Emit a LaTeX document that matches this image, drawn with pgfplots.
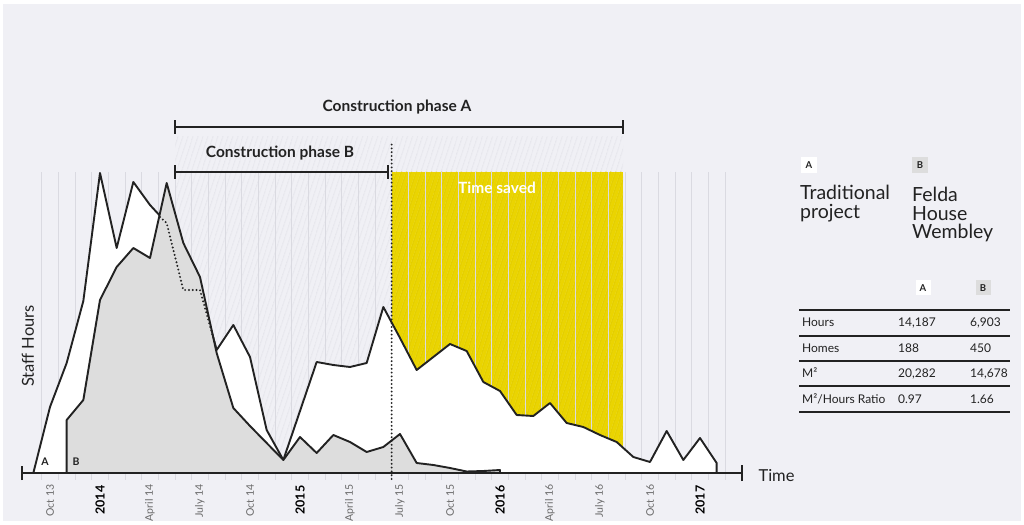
\documentclass[border=0pt]{standalone}
\usepackage{pgfplots}
\pgfplotsset{compat=1.18}
\usetikzlibrary{patterns.meta}
\usepackage{fontspec}
\setmainfont{Lato}
\definecolor{bg}{RGB}{240,240,245}
\definecolor{gridc}{RGB}{218,218,225}
\definecolor{hatchc}{RGB}{214,214,222}
\definecolor{ylw}{RGB}{234,212,0}
\definecolor{ylwh}{RGB}{214,194,0}
\definecolor{bfill}{RGB}{221,221,221}
\definecolor{lc}{RGB}{34,34,34}
\definecolor{monthc}{RGB}{105,105,105}
\begin{document}
\begin{tikzpicture}
\begin{axis}[x=16.6667pt, y=1pt, xmin=-3, xmax=58.44, ymin=-51, ymax=473,
  hide axis, clip=false]
\fill[white] (axis cs:-3,-51) rectangle (axis cs:58.44,473);
\fill[bg] (axis cs:-2.82,-48) rectangle (axis cs:58.26,469);
\coordinate (O) at (axis cs:-3,473);
% hatched construction area
\addplot[draw=none, pattern={Lines[angle=72,distance=4pt,line width=0.5pt]}, pattern color=hatchc]
  coordinates {(7.5,336) (34.38,336)} \closedcycle;
% time saved
\addplot[draw=none, fill=ylw] coordinates {(20.5,301) (34.38,301)} \closedcycle;
\addplot[draw=none, pattern={Lines[angle=72,distance=4pt,line width=0.5pt]}, pattern color=ylwh]
  coordinates {(20.5,301) (34.38,301)} \closedcycle;
% grid lines
\addplot[ycomb, mark=none, color=gridc, line width=0.8pt] coordinates {
(-0.5,301) (0.5,301) (1.5,301) (2.5,301) (3.5,301) (4.5,301) (5.5,301) (6.5,301) (7.5,301) (8.5,301)
(9.5,301) (10.5,301) (11.5,301) (12.5,301) (13.5,301) (14.5,301) (15.5,301) (16.5,301) (17.5,301) (18.5,301)
(19.5,301) (20.5,301) (21.5,301) (22.5,301) (23.5,301) (24.5,301) (25.5,301) (26.5,301) (27.5,301) (28.5,301)
(29.5,301) (30.5,301) (31.5,301) (32.5,301) (33.5,301) (34.5,301) (35.5,301) (36.5,301) (37.5,301) (38.5,301)
(39.5,301) (40.5,301)};
\addplot[ycomb, mark=none, color=gridc, line width=0.8pt] coordinates {
(-0.5,-7) (0.5,-7) (1.5,-7) (2.5,-7) (3.5,-7) (4.5,-7) (5.5,-7) (6.5,-7) (7.5,-7) (8.5,-7)
(9.5,-7) (10.5,-7) (11.5,-7) (12.5,-7) (13.5,-7) (14.5,-7) (15.5,-7) (16.5,-7) (17.5,-7) (18.5,-7)
(19.5,-7) (20.5,-7) (21.5,-7) (22.5,-7) (23.5,-7) (24.5,-7) (25.5,-7) (26.5,-7) (27.5,-7) (28.5,-7)
(29.5,-7) (30.5,-7) (31.5,-7) (32.5,-7) (33.5,-7) (34.5,-7) (35.5,-7) (36.5,-7) (37.5,-7) (38.5,-7)
(39.5,-7) (40.5,-7)};
% A: traditional project
\addplot[fill=white, draw=lc, line width=1.9pt, line join=round, mark=none] coordinates {
(-1,0) (0,66) (1,110) (2,172) (3,300) (4,225) (5,291) (6,268) (7,250) (8,183) (9,183) (10,123)
(11,148) (12,116) (13,43) (14,13) (15,62) (16,111) (17,108) (18,106) (19,110) (20,166) (21,135)
(22,103) (23,116) (24,129) (25,122) (26,91) (27,82) (28,58) (29,57) (30,70) (31,50) (32,46)
(33,38) (34,31) (35,16) (36,11) (37,42) (38,13) (39,35) (40,10) (40,0)} \closedcycle;
% B: Felda House Wembley
\addplot[fill=bfill, draw=lc, line width=1.9pt, line join=round, mark=none] coordinates {
(1,0) (1,53) (2,73) (3,173) (4,206) (5,225) (6,215) (7,290) (8,230) (9,196) (10,120) (11,65)
(12,47) (13,30) (14,13) (15,36) (16,20) (17,38) (18,31) (19,21) (20,26) (21,39) (22,10) (23,8)
(24,5) (25,1.5) (26,2) (27,3) (27,0)} \closedcycle;
% A hidden part, dotted
\addplot[draw=lc, line width=2.2pt, dash pattern=on 0pt off 3.8pt, line cap=round, mark=none]
  coordinates {(6.6,256) (7,250) (8,183) (9,183) (10,123)};
% end of construction phase B
\addplot[draw=lc, line width=2.1pt, dash pattern=on 0pt off 3.8pt, line cap=round, mark=none]
  coordinates {(20.5,-6) (20.5,331)};
% time axis
\draw[lc, line width=2pt] (axis cs:-1.68,0) -- (axis cs:41.52,0);
\draw[lc, line width=2pt] (axis cs:-1.68,-7) -- (axis cs:-1.68,7);
\draw[lc, line width=2pt] (axis cs:41.52,-8) -- (axis cs:41.52,8);
% construction phase bars
\draw[lc, line width=1.9pt] (axis cs:7.5,346) -- (axis cs:34.38,346);
\draw[lc, line width=1.9pt] (axis cs:7.5,339) -- (axis cs:7.5,353);
\draw[lc, line width=1.9pt] (axis cs:34.38,339) -- (axis cs:34.38,353);
\draw[lc, line width=1.9pt] (axis cs:7.5,301) -- (axis cs:20.28,301);
\draw[lc, line width=1.9pt] (axis cs:7.5,294) -- (axis cs:7.5,308);
\draw[lc, line width=1.9pt] (axis cs:20.28,294) -- (axis cs:20.28,308);
% tick labels
\tikzset{mlab/.style={rotate=90, anchor=east, text=monthc, font=\fontsize{10.5}{12}\selectfont},
         ylab/.style={rotate=90, anchor=east, text=black, font=\bfseries\fontsize{12.5}{14}\selectfont}}
\node[mlab] at (axis cs:0,-8) {Oct 13};
\node[ylab] at (axis cs:3,-9) {2014};
\node[mlab] at (axis cs:6,-8) {April 14};
\node[mlab] at (axis cs:9,-8) {July 14};
\node[mlab] at (axis cs:12,-8) {Oct 14};
\node[ylab] at (axis cs:15,-9) {2015};
\node[mlab] at (axis cs:18,-8) {April 15};
\node[mlab] at (axis cs:21,-8) {July 15};
\node[mlab] at (axis cs:24,-8) {Oct 15};
\node[ylab] at (axis cs:27,-9) {2016};
\node[mlab] at (axis cs:30,-8) {April 16};
\node[mlab] at (axis cs:33,-8) {July 16};
\node[mlab] at (axis cs:36,-8) {Oct 16};
\node[ylab] at (axis cs:39,-9) {2017};
\end{axis}
\begin{scope}[shift={(O)}, x=1pt, y=-1pt]
\node[font=\bfseries\fontsize{15.5}{18}\selectfont, text=lc] at (397,107) {Construction phase A};
\node[font=\bfseries\fontsize{15.5}{18}\selectfont, text=lc] at (280,153) {Construction phase B};
\node[font=\bfseries\fontsize{15.5}{18}\selectfont, text=white] at (497,188) {Time saved};
\node[font=\bfseries\fontsize{10.5}{12}\selectfont, text=lc] at (45,462) {A};
\node[font=\bfseries\fontsize{10.5}{12}\selectfont, text=lc] at (76,462) {B};
\node[anchor=west, font=\fontsize{16.5}{18}\selectfont, text=lc] at (755,476) {Time};
\node[rotate=90, font=\fontsize{16.5}{18}\selectfont, text=lc] at (28,346) {Staff Hours};
% right panel
\node[fill=white, minimum size=16pt, inner sep=0pt, font=\bfseries\fontsize{9.5}{10}\selectfont, text=lc] at (809,165) {A};
\node[fill=bfill, minimum size=16pt, inner sep=0pt, font=\bfseries\fontsize{9.5}{10}\selectfont, text=lc] at (920,165) {B};
\node[anchor=north west, inner sep=0pt, align=left, font=\fontsize{19.5}{18.5}\selectfont, text=lc] at (800,185) {Traditional\\project};
\node[anchor=north west, inner sep=0pt, align=left, font=\fontsize{19.5}{18.5}\selectfont, text=lc] at (912,187) {Felda\\House\\Wembley};
\node[fill=white, minimum size=15pt, inner sep=0pt, font=\bfseries\fontsize{9.5}{10}\selectfont, text=lc] at (923,288) {A};
\node[fill=bfill, minimum size=15pt, inner sep=0pt, font=\bfseries\fontsize{9.5}{10}\selectfont, text=lc] at (983,288) {B};
\foreach \yy in {310,336,361,386,412} {\draw[lc, line width=1.5pt] (799,\yy) -- (1010,\yy);}
\tikzset{tc/.style={anchor=base west, inner sep=0pt, font=\fontsize{12}{14}\selectfont, text=lc}}
\node[tc] at (802,327) {Hours};
\node[tc] at (898,327) {14,187};
\node[tc] at (970,327) {6,903};
\node[tc] at (802,353) {Homes};
\node[tc] at (898,353) {188};
\node[tc] at (970,353) {450};
\node[tc] at (802,378) {M²};
\node[tc] at (898,378) {20,282};
\node[tc] at (970,378) {14,678};
\node[tc] at (802,404) {M²/Hours Ratio};
\node[tc] at (898,404) {0.97};
\node[tc] at (970,404) {1.66};
\end{scope}
\end{tikzpicture}
\end{document}
